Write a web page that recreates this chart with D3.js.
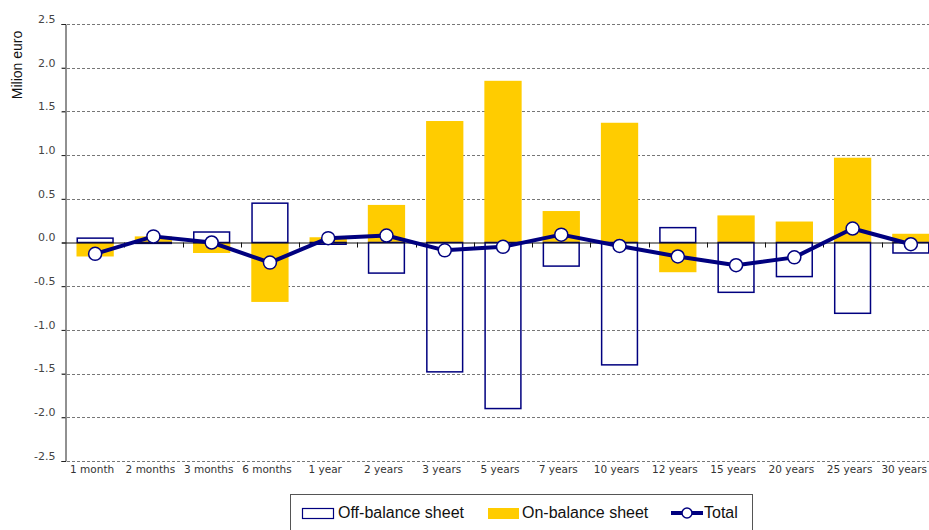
<!DOCTYPE html>
<html>
<head>
<meta charset="utf-8">
<script src="https://cdn.jsdelivr.net/npm/d3@7"></script>
<style>
  body { margin: 0; background: #fff; }
  svg { display: block; font-family: "Liberation Sans", Arial, sans-serif; }
</style>
</head>
<body>
<div id="chart"></div>
<script>
var svgWidth = 929;
var svgHeight = 530;

// categories and series
var maturities = ["1 month", "2 months", "3 months", "6 months", "1 year", "2 years", "3 years",
  "5 years", "7 years", "10 years", "12 years", "15 years", "20 years", "25 years", "30 years"];
var offBalance = [0.05, -0.01, 0.12, 0.45, -0.02, -0.35, -1.48, -1.90, -0.27, -1.40, 0.17, -0.57, -0.39, -0.81, -0.12];
var onBalance = [-0.16, 0.07, -0.12, -0.68, 0.06, 0.43, 1.39, 1.85, 0.36, 1.37, -0.34, 0.31, 0.24, 0.97, 0.10];
var total = [-0.13, 0.07, 0.0, -0.23, 0.05, 0.08, -0.09, -0.05, 0.09, -0.04, -0.16, -0.26, -0.17, 0.16, -0.02];
var yTicks = [2.5, 2.0, 1.5, 1.0, 0.5, 0.0, -0.5, -1.0, -1.5, -2.0, -2.5];

var navy = "#00007f";
var gold = "#ffcc00";

var svg = d3.select("#chart")
  .append("svg")
  .attr("width", svgWidth)
  .attr("height", svgHeight);

// plot runs a bit past the right edge, as in the original
var xScale = d3.scaleBand()
  .domain(maturities)
  .range([66, 940])
  .paddingInner(0.36)
  .paddingOuter(0.18);

var band = d3.scaleBand().domain(maturities).range([66, 940]);

var yScale = d3.scaleLinear()
  .domain([-2.5, 2.5])
  .range([461, 24]);

// dashed gridlines
svg.append("g")
  .selectAll("line")
  .data(yTicks.filter(d => d !== 0))
  .enter()
  .append("line")
  .attr("x1", 62)
  .attr("x2", svgWidth)
  .attr("y1", d => Math.round(yScale(d)) + 0.5)
  .attr("y2", d => Math.round(yScale(d)) + 0.5)
  .attr("stroke", "#777")
  .attr("stroke-dasharray", "3,2");

// y axis labels
var leftAxis = d3.axisLeft(yScale)
  .tickValues(yTicks)
  .tickSize(4)
  .tickFormat(d3.format(".1f"));

var yAxis = svg.append("g")
  .attr("transform", "translate(65.5,0)")
  .call(leftAxis);
yAxis.select(".domain").attr("stroke", "#222");
yAxis.selectAll(".tick line").attr("stroke", "#222");
yAxis.selectAll(".tick text")
  .attr("x", -10)
  .attr("dy", "-0.15em")
  .attr("fill", "#444")
  .style("font-size", "11px")
  .style("font-family", "DejaVu Sans, sans-serif")
  .text(d => d3.format(".1f")(d).replace("−", "-"));

// bars: off-balance (outline) and on-balance (filled) overlap in each category
svg.append("g")
  .selectAll("rect")
  .data(onBalance)
  .enter()
  .append("rect")
  .attr("x", (d, i) => xScale(maturities[i]))
  .attr("width", xScale.bandwidth())
  .attr("y", d => yScale(Math.max(0, d)))
  .attr("height", d => Math.abs(yScale(d) - yScale(0)))
  .attr("fill", gold);

svg.append("g")
  .selectAll("rect")
  .data(offBalance)
  .enter()
  .append("rect")
  .attr("x", (d, i) => xScale(maturities[i]) + 0.75)
  .attr("width", xScale.bandwidth() - 1.5)
  .attr("y", d => yScale(Math.max(0, d)))
  .attr("height", d => Math.abs(yScale(d) - yScale(0)))
  .attr("fill", "none")
  .attr("stroke", navy)
  .attr("stroke-width", 1.5);

// zero line with category ticks
svg.append("line")
  .attr("x1", 62)
  .attr("x2", svgWidth)
  .attr("y1", yScale(0) + 0.5)
  .attr("y2", yScale(0) + 0.5)
  .attr("stroke", "#111");
svg.append("g")
  .selectAll("line")
  .data(maturities.slice(1))
  .enter()
  .append("line")
  .attr("x1", d => Math.round(band(d)) + 0.5)
  .attr("x2", d => Math.round(band(d)) + 0.5)
  .attr("y1", yScale(0))
  .attr("y2", yScale(0) + 5)
  .attr("stroke", "#111");

// category labels along the bottom
var bottomAxis = d3.axisBottom(band).tickSize(0);
var xAxis = svg.append("g")
  .attr("transform", "translate(0,461)")
  .call(bottomAxis);
xAxis.select(".domain").remove();
xAxis.selectAll(".tick text")
  .attr("y", 5)
  .attr("x", -3)
  .attr("fill", "#333")
  .style("font-size", "10.5px")
  .style("font-family", "DejaVu Sans, sans-serif");

// keep the last label inside the picture
xAxis.selectAll(".tick text").each(function() {
  var box = this.getBBox();
  var tx = +d3.select(this.parentNode).attr("transform").match(/translate\(([-\d.]+)/)[1];
  var over = tx + box.x + box.width - 927;
  if (over > 0) d3.select(this).attr("x", -3 - over);
});

// total line
var line = d3.line()
  .x((d, i) => band(maturities[i]) + band.bandwidth() / 2)
  .y(d => yScale(d));

svg.append("path")
  .datum(total)
  .attr("d", line)
  .attr("fill", "none")
  .attr("stroke", navy)
  .attr("stroke-width", 4)
  .attr("stroke-linejoin", "round");

svg.append("g")
  .selectAll("circle")
  .data(total)
  .enter()
  .append("circle")
  .attr("cx", (d, i) => band(maturities[i]) + band.bandwidth() / 2)
  .attr("cy", d => yScale(d))
  .attr("r", 6.5)
  .attr("fill", "#fff")
  .attr("stroke", navy)
  .attr("stroke-width", 1.5);

// y axis title
svg.append("text")
  .attr("transform", "translate(22,65) rotate(-90)")
  .attr("text-anchor", "middle")
  .attr("fill", "#111")
  .style("font-size", "14px")
  .text("Milion euro");

// legend
var legend = svg.append("g");
legend.append("rect")
  .attr("x", 290.5)
  .attr("y", 494.5)
  .attr("width", 462)
  .attr("height", 50)
  .attr("fill", "#fff")
  .attr("stroke", "#555");

legend.append("rect")
  .attr("x", 302.5)
  .attr("y", 508.5)
  .attr("width", 31)
  .attr("height", 10)
  .attr("fill", "#fff")
  .attr("stroke", navy)
  .attr("stroke-width", 1.2);
legend.append("text")
  .attr("x", 338)
  .attr("y", 518)
  .style("font-size", "16px")
  .attr("fill", "#111")
  .text("Off-balance sheet");

legend.append("rect")
  .attr("x", 488)
  .attr("y", 508)
  .attr("width", 31)
  .attr("height", 11)
  .attr("fill", gold);
legend.append("text")
  .attr("x", 522)
  .attr("y", 518)
  .style("font-size", "16px")
  .attr("fill", "#111")
  .text("On-balance sheet");

legend.append("line")
  .attr("x1", 671)
  .attr("x2", 703)
  .attr("y1", 513)
  .attr("y2", 513)
  .attr("stroke", navy)
  .attr("stroke-width", 4);
legend.append("circle")
  .attr("cx", 687)
  .attr("cy", 513)
  .attr("r", 5)
  .attr("fill", "#fff")
  .attr("stroke", navy)
  .attr("stroke-width", 1.5);
legend.append("text")
  .attr("x", 704)
  .attr("y", 518)
  .style("font-size", "16px")
  .attr("fill", "#111")
  .text("Total");
</script>
</body>
</html>
